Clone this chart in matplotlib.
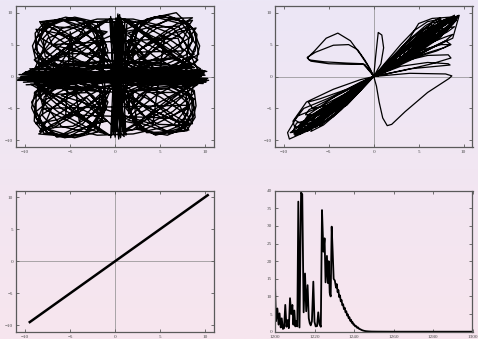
import numpy as np
import matplotlib
matplotlib.use("Agg")
import matplotlib.pyplot as plt
from matplotlib.colors import LinearSegmentedColormap

# ---------------- data ----------------
# top-left: x/y phase portrait (estimated trajectory points)
tl_x = [
    -10.8, 10.2, -9.8, 9.5, -10.2, 10.0, -9.2, 9.8, -10.5, 9.2, -8.8, 8.8, -9.5, 10.3, -9.9, 9.6,
    0.3, 0.6, -0.3, 1.0, 0.1, -0.5, 0.8, 0.2, -0.6, 1.2, 0.5, -0.2, 0.9, 0.4,
    -0.5, -2.0, -5.0, -8.0, -9.0, -7.5, -4.0, -1.5,
    -1.0, -3.5, -6.5, -8.8, -8.5, -5.5, -2.0, -0.8,
    -2.0, -4.5, -7.5, -8.6, -6.5, -3.0, -1.2,
    -1.5, -4.0, -7.0, -8.2, -6.0, -3.0, -1.2,
    -8.5, -2.0, -0.6, -7.0, -9.2,
    0.8, 2.0, 4.5, 7.5, 9.0, 8.0, 5.0, 1.8,
    1.2, 3.5, 6.8, 8.8, 9.3, 6.5, 3.0, 1.2,
    2.5, 5.0, 8.0, 8.6, 6.8, 3.5, 1.5,
    1.5, 4.5, 7.0, 8.6, 6.5, 3.5, 1.4,
    8.2, 2.0, 0.8, 7.2, 9.5,
    -0.5, -2.0, -5.0, -8.0, -9.3, -7.8, -4.5, -1.5,
    -1.0, -3.5, -6.5, -8.8, -8.8, -5.5, -2.0, -0.8,
    -2.0, -4.5, -7.5, -8.8, -6.5, -3.0, -1.2,
    -1.5, -4.0, -7.0, -8.5, -6.0, -3.0, -1.2,
    -8.5, -2.0, -0.6, -7.0, -9.4,
    0.8, 2.0, 4.5, 7.5, 8.8, 8.0, 5.0, 1.8,
    1.2, 3.5, 6.8, 8.6, 8.5, 6.5, 3.0, 1.2,
    2.5, 5.0, 7.5, 8.3, 6.8, 3.5, 1.5,
    1.5, 4.5, 7.0, 8.0, 6.0, 3.5, 1.4,
    8.2, 2.0, 0.8, 7.2, 9.2,
    -7.0, 7.0, 7.5, -6.5, -8.0, 8.2, 6.0, -5.5,
    -5.0, -4.0, 5.5, 4.2, -6.0, 6.5,
    -10.4, 9.9, -9.0, 10.1, -10.0, 9.0,
    -0.6, -1.8, -3.5, -5.8, -7.8, -8.9, -8.8, -7.5, -5.2, -2.8, -1.2,
    -1.5, -3.2, -5.5, -7.6, -8.4, -7.6, -5.5, -3.2, -1.8,
    -0.9, -2.6, -4.6, -6.8, -8.0, -7.8, -6.0, -3.6, -1.6,
    -2.2, -4.0, -6.2, -8.3, -9.2, -8.8, -6.8, -4.2, -2.4, -1.4,
    -3.2, -5.0, -6.6, -8.0, -7.0, -5.2, -3.0, -1.0,
    0.9, 2.2, 3.8, 6.0, 8.0, 9.1, 8.9, 7.5, 5.2, 2.8, 1.3,
    1.8, 3.5, 5.8, 7.9, 8.7, 7.9, 5.8, 3.5, 2.0,
    1.2, 2.9, 4.8, 7.0, 8.2, 8.0, 6.2, 3.8, 1.9,
    2.5, 4.3, 6.5, 8.6, 9.4, 9.0, 7.0, 4.4, 2.6, 1.6,
    3.4, 5.2, 6.8, 8.3, 7.2, 5.4, 3.2, 1.2,
    -9.6, 9.9, -10.6, 10.0, -9.0, 9.4, -10.9, 10.1, -9.3, 8.6,
    -10.0, 9.7, -8.6, 10.4, -10.3, 9.1, -9.7, 9.9, -10.7, 9.3,
    -0.6, -1.8, -3.6, -5.9, -7.9, -9.0, -8.9, -7.6, -5.3, -2.8, -1.2,
    -1.5, -3.3, -5.6, -7.7, -8.5, -7.7, -5.6, -3.3, -1.8,
    -0.9, -2.6, -4.7, -6.9, -8.1, -7.9, -6.1, -3.7, -1.6,
    -2.2, -4.0, -6.3, -8.4, -9.3, -8.9, -6.9, -4.3, -2.4, -1.4,
    -3.2, -5.0, -6.7, -8.1, -7.1, -5.3, -3.0, -1.0,
    0.9, 2.2, 3.9, 6.1, 8.0, 8.9, 8.7, 7.4, 5.1, 2.8, 1.3,
    1.8, 3.5, 5.8, 7.8, 8.5, 7.8, 5.8, 3.5, 2.0,
    1.2, 2.9, 4.8, 7.0, 8.1, 7.9, 6.1, 3.8, 1.9,
    2.5, 4.3, 6.5, 8.5, 9.0, 8.8, 6.9, 4.4, 2.6, 1.6,
    3.4, 5.2, 6.8, 8.2, 7.2, 5.4, 3.2, 1.2,
    0.7, -0.4, 1.1, 0.0, -0.5, 0.9, 0.3, -0.3, 1.3, 0.6, -0.1, 1.0,
    -8.5, -6.0, -2.0, 2.0, 6.5, 8.8, 6.0, 0.0, -6.0, -8.5,
    -8.5, -6.0, -2.0, 2.0, 6.5, 8.8, 6.0, 0.0, -6.0, -8.5,
    -3.0, -7.5, -9.0, -8.0, -3.0, -1.0, -1.5, -3.0,
    3.0, 7.5, 9.2, 8.0, 3.0, 1.0, 1.5, 3.0,
    -10.2, 9.6, -9.4, 10.2, -10.6, 9.0,
    -1.0, -4.0, -7.8, -8.4, -6.8, -3.6, -1.2,
    -1.5, -5.0, -8.2, -8.8, -6.5, -3.0, -0.8,
    -8.8, -6.0, -2.2, -1.0, -2.6, -6.4, -9.0,
    -7.5, -4.5, -1.8, -0.9, -2.5, -5.8, -8.4,
    1.0, 4.0, 7.8, 8.6, 6.8, 3.6, 1.2,
    1.5, 5.0, 8.2, 9.0, 6.5, 3.0, 0.8,
    8.8, 6.0, 2.2, 1.0, 2.6, 6.4, 9.2,
    7.5, 4.5, 1.8, 0.9, 2.5, 5.8, 8.4,
    -1.0, -4.0, -7.8, -8.4, -6.8, -3.6, -1.2,
    -1.5, -5.0, -8.2, -8.8, -6.5, -3.0, -0.8,
    -8.8, -6.0, -2.2, -1.0, -2.6, -6.4, -9.0,
    -7.5, -4.5, -1.8, -0.9, -2.5, -5.8, -8.4,
    1.0, 4.0, 7.6, 8.2, 6.8, 3.6, 1.2,
    1.5, 5.0, 8.0, 8.6, 6.5, 3.0, 0.8,
    8.6, 6.0, 2.2, 1.0, 2.6, 6.4, 8.8,
    7.5, 4.5, 1.8, 0.9, 2.5, 5.8, 8.4,
]
tl_y = [
    -0.4, -0.7, 0.5, 0.9, -0.9, 0.2, 0.3, -1.1, 0.0, 0.6, -0.6, 1.4, 1.2, -0.3, -1.3, 0.0,
    9.5, -9.4, 8.8, -9.0, 9.2, -9.6, 8.5, -8.6, 9.0, -9.2, 9.7, -9.0, 8.0, -9.8,
    2.0, 7.0, 9.2, 7.5, 4.0, 1.2, 0.8, 2.5,
    5.0, 8.8, 8.8, 6.0, 2.0, 0.5, 1.5, 4.0,
    8.5, 9.3, 8.2, 5.2, 2.5, 2.2, 5.5,
    3.0, 5.5, 7.5, 8.6, 9.0, 7.5, 6.8,
    1.5, 8.0, 9.0, 3.0, 1.0,
    2.0, 7.0, 9.3, 8.2, 5.0, 1.8, 0.8, 2.5,
    5.0, 9.0, 10.0, 7.2, 3.5, 1.2, 1.5, 3.5,
    8.5, 9.5, 8.5, 5.5, 2.8, 2.5, 5.8,
    3.0, 5.8, 7.8, 9.2, 9.1, 7.6, 6.8,
    1.5, 8.3, 9.0, 3.2, 1.2,
    -2.0, -7.0, -9.3, -8.0, -4.0, -1.3, -0.8, -2.5,
    -5.0, -9.0, -9.5, -6.5, -2.5, -0.8, -1.5, -4.0,
    -8.7, -9.6, -8.8, -5.5, -2.8, -2.5, -5.5,
    -3.0, -5.5, -7.5, -9.0, -9.3, -7.8, -7.0,
    -1.5, -8.3, -9.2, -3.2, -1.2,
    -2.0, -7.0, -9.2, -8.0, -5.0, -1.8, -0.8, -2.5,
    -5.0, -8.8, -8.6, -6.5, -3.0, -1.2, -1.5, -3.5,
    -8.3, -9.0, -7.5, -4.5, -2.5, -2.5, -5.8,
    -3.0, -5.5, -7.2, -8.5, -8.8, -7.6, -6.8,
    -1.5, -8.3, -8.6, -3.2, -1.2,
    5.0, 6.0, 4.0, 3.5, -5.0, -4.5, -6.5, -6.0,
    7.0, -7.0, 6.5, -7.5, -3.0, 3.0,
    -0.3, 0.4, -0.8, -0.5, 0.7, -0.2,
    1.5, 4.5, 7.2, 8.8, 8.6, 6.8, 4.2, 2.0, 0.9, 0.9, 1.8,
    6.5, 8.6, 9.3, 8.4, 6.2, 3.6, 2.0, 2.2, 4.2,
    3.2, 6.0, 7.6, 7.8, 6.0, 3.2, 1.4, 1.0, 2.0,
    8.0, 9.0, 8.9, 7.4, 4.8, 2.4, 1.0, 1.3, 3.0, 5.6,
    3.2, 5.6, 7.4, 8.2, 5.0, 3.0, 1.6, 0.8,
    1.5, 4.5, 7.4, 9.0, 8.6, 6.6, 4.0, 1.8, 0.9, 1.0, 1.9,
    6.5, 8.8, 9.6, 8.4, 6.0, 3.4, 2.0, 2.3, 4.3,
    3.2, 6.0, 7.7, 7.9, 6.0, 3.0, 1.3, 1.0, 2.0,
    8.2, 9.3, 9.2, 7.6, 4.8, 2.3, 0.9, 1.3, 3.1, 5.8,
    3.0, 5.4, 7.2, 8.0, 4.8, 2.8, 1.5, 0.7,
    0.8, -0.5, -0.2, 0.9, -1.0, 0.3, -0.6, -0.9, 0.2, -0.2,
    0.6, 1.0, -0.3, -0.6, 0.4, -1.3, -0.7, 0.6, 0.3, -0.8,
    -1.5, -4.6, -7.4, -9.1, -8.9, -7.0, -4.2, -2.0, -0.9, -0.9, -1.9,
    -6.6, -8.9, -9.6, -8.7, -6.3, -3.6, -2.0, -2.2, -4.3,
    -3.3, -6.1, -7.8, -8.0, -6.1, -3.2, -1.4, -1.0, -2.0,
    -8.2, -9.3, -9.2, -7.6, -4.9, -2.4, -1.0, -1.3, -3.1, -5.7,
    -3.3, -5.7, -7.6, -8.4, -5.1, -3.0, -1.6, -0.8,
    -1.5, -4.5, -7.2, -8.8, -8.4, -6.4, -3.9, -1.8, -0.9, -1.0, -1.9,
    -6.4, -8.6, -9.2, -8.0, -5.8, -3.3, -1.9, -2.2, -4.2,
    -3.1, -5.9, -7.5, -7.6, -5.8, -2.9, -1.3, -1.0, -2.0,
    -8.0, -9.0, -8.8, -7.3, -4.6, -2.2, -0.9, -1.3, -3.0, -5.6,
    -2.9, -5.2, -6.9, -7.7, -4.6, -2.7, -1.5, -0.7,
    9.0, -9.2, 8.8, -9.5, 9.4, -8.8, 9.8, -8.5, 8.2, -9.6, 8.6, -9.4,
    3.0, 7.5, 9.0, 9.0, 7.5, 3.5, 1.5, 2.5, 1.5, 3.0,
    -3.0, -7.8, -9.2, -9.0, -7.6, -3.5, -1.5, -2.5, -1.5, -3.0,
    8.5, 6.0, 1.0, -5.0, -8.5, -4.0, 4.0, 8.5,
    8.5, 6.0, 1.0, -5.0, -8.5, -4.0, 4.0, 8.5,
    0.5, -0.4, -0.1, 0.8, -0.6, 0.1,
    1.5, 3.8, 7.2, 8.6, 8.0, 5.2, 2.2,
    0.8, 3.2, 6.0, 7.4, 6.8, 4.5, 2.5,
    1.4, 3.5, 7.8, 8.8, 8.4, 5.5, 2.6,
    0.6, 3.0, 6.0, 7.0, 7.4, 5.2, 2.0,
    1.5, 3.8, 7.2, 8.8, 8.2, 5.2, 2.2,
    0.8, 3.2, 6.0, 7.6, 6.8, 4.5, 2.5,
    1.4, 3.5, 7.8, 9.0, 8.4, 5.5, 2.6,
    0.6, 3.0, 6.0, 7.0, 7.4, 5.2, 2.0,
    -1.5, -3.8, -7.2, -8.6, -8.0, -5.2, -2.2,
    -0.8, -3.2, -6.0, -7.4, -6.8, -4.5, -2.5,
    -1.4, -3.5, -7.8, -9.0, -8.4, -5.5, -2.6,
    -0.6, -3.0, -6.0, -7.0, -7.4, -5.2, -2.0,
    -1.5, -3.8, -7.0, -8.4, -7.8, -5.2, -2.2,
    -0.8, -3.2, -6.0, -7.4, -6.8, -4.5, -2.5,
    -1.4, -3.5, -7.6, -8.6, -8.2, -5.5, -2.6,
    -0.6, -3.0, -6.0, -7.0, -7.4, -5.2, -2.0,
]

# top-right: x/z phase portrait (estimated trajectory points)
tr_x = [
    0.0, 2.5, 5.5, 8.0, 9.4, 8.8, 6.5, 3.0, 0.0,
    -2.5, -5.5, -8.0, -8.9, -8.0, -5.0, -2.0, 0.0,
    2.0, 4.5, 6.5, 8.3, 8.6, 7.5, 5.0, 2.0, 0.0,
    -2.8, -6.0, -8.5, -9.3, -8.2, -5.5, -2.5, 0.0,
    3.0, 6.0, 8.3, 8.5, 7.0, 4.0, 0.0,
    2.2, 4.0, 5.0, 6.5, 8.5, 9.2, 8.0, 5.0, 2.0, 0.0,
    -2.0, -4.5, -7.5, -9.4, -9.6, -8.5, -6.0, -3.0, 0.0,
    -0.7, -1.5, -2.6, -4.0, -5.3, -6.6, -7.4, -7.0, -5.0, -2.5, -1.0, -0.3, 0.0,
    0.2, 0.5, 0.9, 1.1, 0.8, 0.0,
    4.0, 8.0, 8.7, 8.4, 6.0, 3.5, 2.0, 1.5, 1.0, 0.6, 0.3, 0.0,
    3.0, 6.5, 8.8, 9.5, 8.0, 5.5, 2.5, 0.0,
    -3.0, -6.5, -8.8, -9.0, -7.5, -4.5, -1.5, 0.0,
    -0.4, -1.0, -1.8, -2.8, -4.5, -6.5, -7.4, -7.2, -5.5, -3.0, -1.2, -0.2, 0.0,
    2.5, 5.0, 7.5, 8.5, 7.8, 5.5, 2.5, 0.0,
    -2.0, -4.8, -7.2, -8.0, -7.3, -4.0, -1.5, 0.0,
    1.5, 3.0, 4.5, 6.0, 7.5, 6.5, 4.0, 1.5, 0.0,
    -2.2, -5.2, -7.8, -8.8, -7.6, -6.5, -4.0, -1.8, 0.0,
    3.0, 6.0, 8.3, 8.6, 6.5, 3.5, 0.0,
    -3.5, -6.8, -8.6, -9.0, -7.0, -3.5, 0.0,
    2.8, 5.8, 8.5, 9.2, 7.8, 4.5, 1.5, 0.0,
    -3.0, -6.0, -7.3, -6.8, -4.0, -1.2, 0.0,
    -2.0, -4.5, -7.0, -8.4, -7.6, -5.2, -2.4, 0.0,
    -2.6, -5.2, -7.4, -7.8, -6.2, -3.8, -1.6, 0.0,
    -1.6, -3.6, -5.6, -7.0, -6.6, -4.6, -2.0, 0.0,
    -3.0, -5.8, -7.2, -7.6, -6.4, -4.0, -1.4, 0.0,
    -2.2, -5.0, -6.8, -8.8, -8.2, -6.0, -3.0, 0.0,
    2.2, 4.8, 7.2, 8.8, 8.2, 5.6, 2.6, 0.0,
    2.8, 5.4, 7.6, 8.4, 7.0, 4.4, 1.8, 0.0,
    1.8, 3.8, 5.8, 7.4, 7.0, 5.0, 2.2, 0.0,
    3.2, 6.2, 8.0, 8.6, 7.0, 4.2, 1.4, 0.0,
    2.4, 5.2, 7.6, 9.0, 8.6, 6.6, 3.2, 0.0,
    3.0, 5.8, 8.0, 8.8, 8.0, 5.6, 2.4, 0.0,
    2.6, 5.0, 6.6, 7.6, 6.8, 4.8, 2.2, 0.0,
    -1.8, -4.0, -6.0, -7.2, -6.8, -4.6, -2.2, 0.0,
    -2.4, -4.6, -6.6, -7.4, -6.2, -4.0, -1.8, 0.0,
    -2.0, -4.4, -6.4, -7.0, -6.0, -3.8, -1.6, 0.0,
    -2.6, -5.4, -7.6, -8.2, -7.2, -5.0, -2.4, 0.0,
    -1.4, -3.2, -5.0, -6.0, -5.8, -4.0, -1.8, 0.0,
    -2.8, -5.6, -7.8, -8.6, -7.4, -5.0, -2.2, 0.0,
    1.8, 4.0, 6.2, 7.8, 7.4, 5.0, 2.4, 0.0,
    2.4, 4.8, 7.0, 8.4, 7.6, 5.2, 2.2, 0.0,
    2.0, 4.4, 6.4, 7.8, 6.6, 4.0, 1.6, 0.0,
    2.6, 5.4, 7.8, 9.2, 8.6, 6.2, 3.0, 0.0,
    1.6, 3.4, 5.2, 6.4, 6.6, 4.6, 2.0, 0.0,
    3.0, 6.0, 8.2, 9.0, 8.2, 5.8, 2.6, 0.0,
    2.2, 4.6, 6.8, 8.0, 7.2, 4.6, 2.0, 0.0,
    -2.2, -4.6, -7.0, -8.6, -6.8, -4.4, -2.0, 0.0,
    -2.0, -4.2, -6.6, -8.4, -6.4, -4.0, -1.8, 0.0,
    -2.4, -4.8, -7.2, -8.7, -7.0, -4.6, -2.2, 0.0,
    -1.8, -4.0, -6.2, -8.2, -6.0, -3.8, -1.6, 0.0,
    -2.2, -4.4, -6.8, -8.5, -6.6, -4.2, -1.9, 0.0,
    2.2, 4.6, 7.0, 9.4, 7.2, 4.8, 2.2, 0.0,
    2.0, 4.4, 6.8, 9.2, 6.8, 4.4, 2.0, 0.0,
    2.4, 4.8, 7.2, 9.5, 7.4, 5.0, 2.4, 0.0,
    1.8, 4.2, 6.6, 9.0, 6.6, 4.2, 1.8, 0.0,
]
tr_y = [
    0.0, 3.5, 6.8, 8.6, 9.4, 8.2, 5.6, 2.4, 0.0,
    -3.2, -6.6, -8.6, -9.0, -7.6, -4.6, -1.6, 0.0,
    2.9, 6.3, 8.4, 9.0, 8.4, 6.2, 3.8, 1.2, 0.0,
    -2.5, -5.2, -8.0, -8.8, -8.6, -6.5, -3.0, 0.0,
    1.6, 2.2, 2.0, 1.8, 1.6, 1.2, 0.0,
    3.0, 6.0, 8.3, 9.1, 9.3, 8.8, 7.0, 4.0, 1.5, 0.0,
    -2.5, -6.3, -8.6, -9.8, -8.8, -6.2, -4.8, -2.6, 0.0,
    1.8, 3.5, 5.6, 6.8, 6.0, 4.0, 2.9, 2.4, 2.0, 1.9, 1.9, 0.6, 0.0,
    3.0, 6.9, 6.5, 4.5, 2.0, 0.0,
    0.5, 0.4, 0.1, -0.3, -2.5, -5.5, -7.5, -7.7, -6.5, -4.0, -1.5, 0.0,
    2.0, 4.5, 6.0, 9.5, 9.0, 6.5, 3.0, 0.0,
    -4.5, -7.0, -8.0, -7.0, -4.0, -2.0, -0.5, 0.0,
    1.2, 2.6, 4.2, 5.0, 4.9, 3.8, 3.0, 2.6, 2.3, 2.1, 2.0, 0.4, 0.0,
    2.5, 4.0, 5.0, 5.0, 4.5, 3.5, 1.5, 0.0,
    -2.6, -5.5, -7.5, -7.5, -6.0, -2.8, -0.9, 0.0,
    2.5, 5.0, 7.2, 8.6, 9.0, 8.0, 5.0, 1.8, 0.0,
    -1.5, -3.5, -5.0, -6.8, -7.8, -8.0, -5.5, -2.5, 0.0,
    2.3, 3.3, 3.4, 2.9, 2.0, 1.0, 0.0,
    -3.8, -6.6, -7.3, -8.6, -7.8, -4.2, 0.0,
    3.8, 7.5, 8.8, 9.0, 7.2, 3.8, 1.0, 0.0,
    -2.0, -3.5, -4.0, -5.0, -4.2, -1.6, 0.0,
    -2.6, -5.6, -7.8, -8.6, -7.4, -4.9, -2.0, 0.0,
    -2.4, -4.6, -6.4, -7.6, -7.0, -4.8, -2.2, 0.0,
    -2.4, -5.2, -7.6, -8.6, -7.2, -4.6, -1.8, 0.0,
    -2.2, -4.2, -5.2, -6.0, -6.0, -4.2, -1.6, 0.0,
    -2.9, -6.2, -8.0, -9.2, -8.0, -5.6, -2.6, 0.0,
    2.6, 5.8, 8.0, 9.0, 7.4, 4.8, 2.0, 0.0,
    2.5, 4.8, 6.6, 7.6, 7.4, 5.2, 2.3, 0.0,
    2.6, 5.6, 8.0, 9.2, 8.0, 5.2, 2.0, 0.0,
    2.4, 4.4, 5.6, 5.0, 4.0, 2.8, 1.2, 0.0,
    3.2, 6.6, 8.6, 9.6, 8.4, 6.0, 2.8, 0.0,
    2.8, 5.0, 6.2, 6.6, 5.6, 3.8, 1.6, 0.0,
    3.0, 5.6, 7.0, 8.0, 6.6, 4.4, 1.8, 0.0,
    -2.2, -4.8, -7.0, -8.2, -7.2, -4.4, -1.8, 0.0,
    -2.6, -5.4, -7.6, -8.6, -7.6, -4.6, -2.0, 0.0,
    -1.8, -4.0, -6.2, -7.0, -6.4, -4.2, -1.8, 0.0,
    -3.0, -6.4, -8.4, -9.0, -7.8, -5.2, -2.2, 0.0,
    -2.0, -4.4, -6.6, -7.8, -6.6, -4.2, -1.6, 0.0,
    -2.4, -5.0, -7.0, -8.0, -7.8, -5.6, -2.6, 0.0,
    2.2, 4.8, 7.2, 8.6, 7.6, 4.8, 2.0, 0.0,
    2.8, 5.6, 7.8, 8.8, 7.8, 5.0, 2.0, 0.0,
    2.0, 4.4, 6.6, 7.4, 6.0, 3.8, 1.6, 0.0,
    3.2, 6.6, 8.8, 9.4, 8.0, 5.6, 2.4, 0.0,
    2.4, 5.0, 7.0, 8.2, 7.2, 4.8, 1.8, 0.0,
    2.6, 5.2, 7.0, 7.8, 7.6, 5.6, 2.6, 0.0,
    2.6, 5.4, 7.0, 7.2, 6.2, 4.2, 1.6, 0.0,
    -2.8, -5.4, -7.8, -9.0, -7.2, -4.6, -2.0, 0.0,
    -2.5, -5.0, -7.4, -8.9, -7.0, -4.4, -1.9, 0.0,
    -2.9, -5.6, -8.0, -9.1, -7.6, -5.0, -2.3, 0.0,
    -2.3, -4.8, -7.2, -8.8, -6.6, -4.2, -1.7, 0.0,
    -2.7, -5.2, -7.6, -8.95, -7.3, -4.7, -2.1, 0.0,
    2.6, 5.2, 7.6, 9.5, 7.4, 4.8, 2.0, 0.0,
    2.4, 4.9, 7.3, 9.3, 7.0, 4.5, 1.9, 0.0,
    2.8, 5.5, 7.9, 9.6, 7.7, 5.2, 2.3, 0.0,
    2.2, 4.7, 7.1, 9.1, 6.7, 4.2, 1.7, 0.0,
]

# bottom-left: x vs x' (synchronised line)
bl_x = [-9.5, 10.3]
bl_y = [-9.5, 10.3]

# bottom-right: time series
br_t = [
    1200.0, 1200.5, 1201.2, 1201.8, 1202.3, 1202.9, 1203.4, 1204.0, 1204.6, 1205.2,
    1205.8, 1206.4, 1207.0, 1207.6, 1208.2, 1208.8, 1209.3, 1209.8, 1210.3, 1210.8,
    1211.3, 1211.8, 1212.4, 1213.2, 1213.8, 1214.5, 1215.2, 1215.8, 1216.5, 1217.1,
    1217.6, 1218.1, 1218.7, 1219.4, 1220.0, 1220.6, 1221.3, 1221.9, 1222.5, 1223.2,
    1223.8, 1224.5, 1225.1, 1225.6, 1226.3, 1226.8, 1227.2, 1227.7, 1228.2, 1228.7,
    1229.2, 1229.7, 1230.3, 1230.9, 1231.3, 1231.7, 1232.1, 1232.5, 1232.9, 1233.3,
    1233.7, 1234.1, 1234.5, 1234.9, 1235.3, 1235.7, 1236.1, 1236.5, 1236.9, 1237.3,
    1237.7, 1238.1, 1238.5, 1238.9, 1239.3, 1239.7, 1240.1, 1240.6, 1241.1, 1241.6,
    1242.1, 1242.6, 1243.2, 1243.8, 1244.5, 1245.3, 1246.2, 1247.5, 1249.0, 1252.0,
    1260.0, 1280.0, 1300.0,
]
br_v = [
    13.2, 3.0, 6.6, 2.0, 5.2, 1.2, 3.8, 0.8, 1.0, 7.6,
    1.4, 3.3, 1.0, 9.5, 5.0, 7.6, 2.0, 6.0, 1.5, 3.0,
    1.5, 36.9, 1.2, 39.5, 39.0, 5.5, 16.5, 5.8, 13.2, 3.8,
    2.4, 1.8, 3.0, 14.2, 2.8, 1.5, 1.6, 5.5, 2.2, 1.4,
    34.5, 22.7, 26.5, 14.0, 21.5, 13.8, 20.0, 11.0, 10.0, 29.8,
    22.7, 15.0, 14.5, 12.5, 13.5, 11.2, 11.8, 9.8, 10.3, 8.6,
    9.0, 7.5, 7.8, 6.4, 6.8, 5.5, 5.8, 4.6, 4.9, 3.8,
    4.1, 3.1, 3.4, 2.5, 2.7, 2.0, 2.1, 1.5, 1.6, 1.1,
    1.2, 0.8, 0.7, 0.5, 0.35, 0.22, 0.14, 0.08, 0.04, 0.02,
    0.0, 0.0, 0.0,
]

# ---------------- style ----------------
W, H, DPI = 478, 339, 100
fig = plt.figure(figsize=(W / DPI, H / DPI), dpi=DPI)

# background gradient (lavender -> pink)
bg = fig.add_axes([0, 0, 1, 1], zorder=-10)
cmap = LinearSegmentedColormap.from_list("bg", ["#ece7f6", "#f7e5ee"])
bg.imshow(np.linspace(0, 1, 256).reshape(-1, 1), aspect="auto", cmap=cmap,
          extent=[0, 1, 0, 1])
bg.set_axis_off()

frame_col = "#5a5a5a"
label_col = "#4a4a4a"
LS = 3.7

def make_ax(rect):
    ax = fig.add_axes(rect)
    ax.set_facecolor("none")
    for s in ax.spines.values():
        s.set_color(frame_col)
        s.set_linewidth(0.9)
    ax.tick_params(direction="in", length=2.0, width=0.6, color=frame_col,
                   top=True, right=True, pad=2.2, labelsize=LS,
                   labelcolor=label_col)
    return ax

def serif_labels(ax):
    for lab in ax.get_xticklabels() + ax.get_yticklabels():
        lab.set_family("Liberation Serif")

def sym_axes(ax):
    ax.set_xlim(-11, 11)
    ax.set_ylim(-11, 11)
    ax.set_xticks([-10, -5, 0, 5, 10])
    ax.set_yticks([-10, -5, 0, 5, 10])
    ax.axhline(0, color="#8a8a8a", lw=0.5, zorder=0)
    ax.axvline(0, color="#8a8a8a", lw=0.5, zorder=0)
    serif_labels(ax)

left1, w1 = 16.3 / W, (214 - 16.3) / W
left2, w2 = 275 / W, (472.5 - 275) / W
bot_top, h_top = 1 - 146.7 / H, (146.7 - 6.3) / H
bot_bot, h_bot = 1 - 331.7 / H, (331.7 - 190.7) / H

ax1 = make_ax([left1, bot_top, w1, h_top])
sym_axes(ax1)
ax1.plot(tl_x, tl_y, color="black", lw=1.0)

ax2 = make_ax([left2, bot_top, w2, h_top])
sym_axes(ax2)
ax2.plot(tr_x, tr_y, color="black", lw=0.9)

ax3 = make_ax([left1, bot_bot, w1, h_bot])
sym_axes(ax3)
ax3.plot(bl_x, bl_y, color="black", lw=1.8)

ax4 = make_ax([left2, bot_bot, w2, h_bot])
ax4.set_xlim(1200, 1300)
ax4.set_ylim(0, 40)
ax4.set_xticks([1200, 1220, 1240, 1260, 1280, 1300])
ax4.set_yticks([0, 5, 10, 15, 20, 25, 30, 35, 40])
serif_labels(ax4)
ax4.plot(br_t, br_v, color="black", lw=1.3)

fig.savefig("out.png", dpi=DPI)
